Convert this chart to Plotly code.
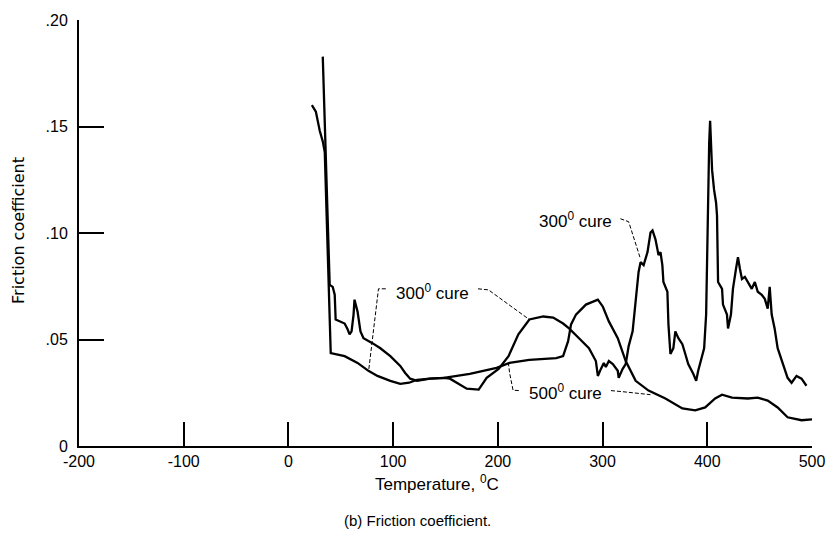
import plotly.graph_objects as go

# ---- data ----
temp_300 = [22.4, 26.2, 29.9, 32.8, 34.7, 37.5, 40.4, 53.7, 66.0, 76.4, 85.0, 97.3, 106.8, 115.3,
            122.9, 135.2, 148.5, 154.2, 162.7, 170.3, 181.7, 189.3, 200.7, 210.2, 219.6, 230.1,
            243.4, 252.8, 262.3, 268.0, 277.5, 287.0, 293.6, 295.5, 298.4, 301.2, 303.1, 306.0,
            309.8, 314.5, 315.4, 319.2, 322.1, 324.9, 328.7, 331.6, 334.4, 336.3, 339.2, 342.9,
            343.9, 345.8, 347.7, 350.5, 352.4, 353.4, 355.3, 357.1, 358.1, 361.9, 362.9, 364.8,
            367.6, 369.5, 372.4, 376.2, 379.0, 381.8, 386.6, 389.4, 391.3, 395.1, 397.0, 398.9,
            399.9, 400.8, 401.8, 402.7, 404.6, 406.5, 408.4, 409.3, 410.3, 414.1, 415.0, 418.8,
            419.8, 422.6, 424.5, 427.4, 429.3, 431.2, 433.1, 435.9, 438.7, 442.5, 445.4, 448.2,
            452.0, 454.9, 457.7, 459.6, 461.5, 464.3, 467.2, 471.9, 476.7, 480.5, 485.2, 490.0,
            494.7]
fc_300 = [0.160, 0.157, 0.148, 0.143, 0.138, 0.091, 0.0436, 0.0422, 0.0390, 0.0353, 0.0329, 0.0306,
          0.0292, 0.0297, 0.0311, 0.0316, 0.0320, 0.0316, 0.0292, 0.0269, 0.0265, 0.0320, 0.0362,
          0.0422, 0.0524, 0.0594, 0.0608, 0.0603, 0.0575, 0.0552, 0.0506, 0.0459, 0.0399, 0.0329,
          0.0362, 0.0390, 0.0371, 0.0399, 0.0385, 0.0353, 0.0320, 0.0362, 0.0385, 0.0469, 0.0538,
          0.0691, 0.0817, 0.0863, 0.0849, 0.0910, 0.0942, 0.1002, 0.1012, 0.0970, 0.0923, 0.0896,
          0.0910, 0.0849, 0.0770, 0.0724, 0.0571, 0.0432, 0.0459, 0.0538, 0.0506, 0.0478, 0.0432,
          0.0385, 0.0339, 0.0306, 0.0353, 0.0432, 0.0459, 0.0617, 0.0923, 0.1155, 0.1420, 0.1527,
          0.1295, 0.1202, 0.1142, 0.1081, 0.0770, 0.0738, 0.0664, 0.0617, 0.0552, 0.0617, 0.0738,
          0.0831, 0.0886, 0.0831, 0.0784, 0.0794, 0.0770, 0.0738, 0.0770, 0.0724, 0.0710, 0.0691,
          0.0645, 0.0747, 0.0617, 0.0552, 0.0459, 0.0385, 0.0320, 0.0297, 0.0329, 0.0316, 0.0283]

temp_500 = [32.8, 35.6, 37.5, 39.4, 42.3, 44.2, 45.1, 48.9, 53.7, 56.5, 58.4, 60.3, 62.2, 63.1,
            66.0, 68.8, 71.7, 80.2, 87.8, 97.3, 106.8, 111.5, 116.3, 122.9, 135.2, 148.5, 160.8,
            173.2, 198.8, 211.1, 230.1, 255.7, 262.3, 267.1, 269.9, 274.6, 284.1, 295.5, 300.3,
            306.0, 314.5, 322.1, 331.6, 343.9, 360.0, 376.2, 388.5, 398.0, 407.5, 414.1, 423.6,
            438.7, 448.2, 457.7, 467.2, 476.7, 490.0, 500.0]
fc_500 = [0.1828, 0.1374, 0.1049, 0.0756, 0.0747, 0.0710, 0.0594, 0.0585, 0.0575, 0.0548, 0.0524,
          0.0538, 0.0617, 0.0687, 0.0631, 0.0538, 0.0506, 0.0483, 0.0459, 0.0422, 0.0376, 0.0343,
          0.0316, 0.0306, 0.0316, 0.0320, 0.0329, 0.0339, 0.0367, 0.0390, 0.0404, 0.0413, 0.0422,
          0.0492, 0.0571, 0.0617, 0.0664, 0.0687, 0.0654, 0.0585, 0.0506, 0.0399, 0.0306, 0.0260,
          0.0223, 0.0176, 0.0167, 0.0181, 0.0223, 0.0241, 0.0227, 0.0223, 0.0227, 0.0213, 0.0181,
          0.0135, 0.0121, 0.0125]

x_ticks = [-200, -100, 0, 100, 200, 300, 400, 500]
x_ticktext = ["-200", "-100", "0", "100", "200", "300", "400", "500"]
y_ticks = [0, 0.05, 0.10, 0.15, 0.20]
y_ticktext = ["0", ".05", ".10", ".15", ".20"]

SANS = "Liberation Sans, Arial, sans-serif"
WIDE = "DejaVu Sans, Verdana, sans-serif"

fig = go.Figure()
fig.add_trace(go.Scatter(x=temp_300, y=fc_300, mode="lines", name="300° cure",
                         line=dict(color="black", width=2.3)))
fig.add_trace(go.Scatter(x=temp_500, y=fc_500, mode="lines", name="500° cure",
                         line=dict(color="black", width=2.3)))

# leader lines (thin, dashed)
leaders = [
    [(93.0, 0.0738), (86.0, 0.0738), (76.6, 0.0353)],
    [(181.0, 0.0738), (191.0, 0.0733), (230.0, 0.0594)],
    [(220.0, 0.0260), (214.5, 0.0262), (211.2, 0.0343), (210.2, 0.0385)],
    [(308.0, 0.0260), (319.2, 0.0255), (345.7, 0.0241)],
    [(317.0, 0.1067), (324.9, 0.1053), (336.3, 0.0877)],
]
for pts in leaders:
    path = "M " + " L ".join(f"{a},{b}" for a, b in pts)
    fig.add_shape(type="path", path=path, xref="x", yref="y",
                  line=dict(color="black", width=1, dash="4px,2px"))

lab_font = dict(family=SANS, size=17, color="black")
for xx, yy, txt in [(137.3, 0.0724, "300<sup>0</sup> cure"),
                    (264.2, 0.0255, "500<sup>0</sup> cure"),
                    (274.5, 0.1063, "300<sup>0</sup> cure")]:
    fig.add_annotation(x=xx, y=yy, xref="x", yref="y", text=txt, showarrow=False,
                       xanchor="center", yanchor="middle", font=lab_font)

# titles and caption
fig.add_annotation(x=0.4885, y=-0.088, xref="paper", yref="paper",
                   text="Temperature, <sup>0</sup>C", showarrow=False,
                   xanchor="center", yanchor="middle",
                   font=dict(family=SANS, size=17, color="black"))
fig.add_annotation(x=0.4614, y=-0.174, xref="paper", yref="paper",
                   text="(b) Friction coefficient.", showarrow=False,
                   xanchor="center", yanchor="middle",
                   font=dict(family=SANS, size=15, color="black"))
fig.add_annotation(x=-0.0825, y=0.506, xref="paper", yref="paper",
                   text="Friction coefficient", showarrow=False, textangle=-90,
                   xanchor="center", yanchor="middle",
                   font=dict(family=WIDE, size=16, color="black"))

fig.update_layout(
    width=837, height=540,
    margin=dict(l=79, r=18, t=15, b=94),
    paper_bgcolor="white", plot_bgcolor="white",
    showlegend=False,
    xaxis=dict(range=[-200, 500], tickvals=x_ticks, ticktext=x_ticktext,
               ticks="inside", ticklen=24, tickwidth=2, tickcolor="black",
               showline=True, linewidth=2, linecolor="black", showgrid=False,
               zeroline=False, ticklabeloverflow="allow",
               tickfont=dict(family=SANS, size=16, color="black")),
    yaxis=dict(range=[0, 0.2], tickvals=y_ticks, ticktext=y_ticktext,
               ticks="inside", ticklen=25, tickwidth=2, tickcolor="black",
               showline=True, linewidth=2, linecolor="black", showgrid=False,
               zeroline=False, ticklabelstandoff=6, ticklabeloverflow="allow",
               tickfont=dict(family=SANS, size=16, color="black")),
)

fig.write_html("out.html", config={"displayModeBar": False},
               post_script="document.body.style.margin='0';document.body.style.overflow='hidden';")
